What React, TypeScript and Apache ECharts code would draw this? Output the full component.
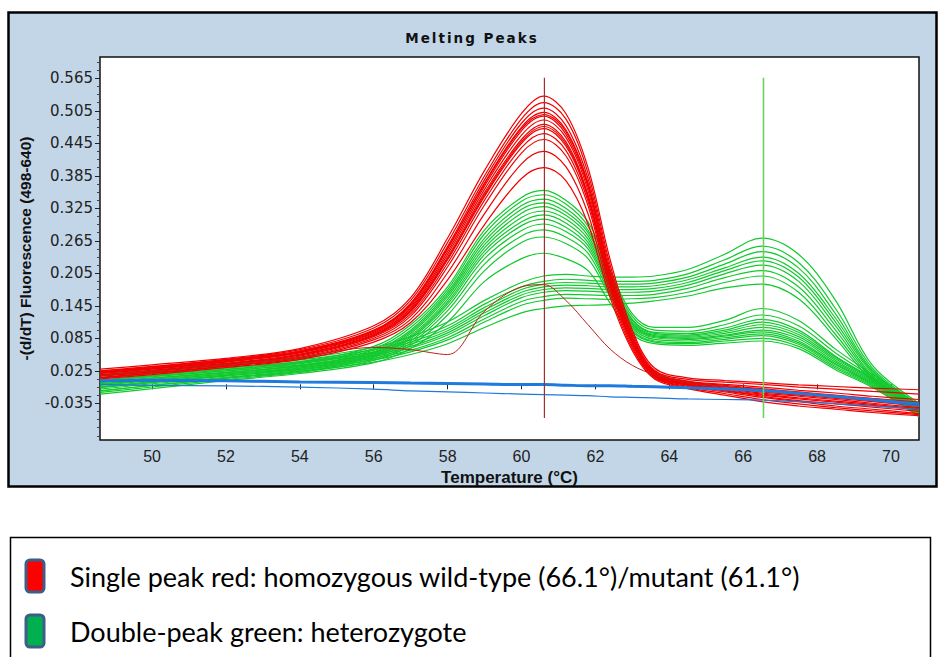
import React, { useEffect, useRef } from 'react';
import * as echarts from 'echarts';

// Temperature grid (°C) at which each melting curve is sampled
const temps = [48.6, 50, 52, 54, 56, 57, 58, 59, 60, 60.6, 61.2, 61.8, 62.4, 63, 63.6, 64.5, 65.5, 66.5, 67.5, 68.5, 69.5, 70.76];

// Single-peak (homozygous) samples
const redCurves = [
  [0.028, 0.036, 0.048, 0.066, 0.108, 0.16, 0.27, 0.395, 0.5, 0.532, 0.5, 0.4, 0.23, 0.1, 0.03, 0.012, 0.007, 0.003, -0.001, -0.004, -0.007, -0.01],
  [0.025, 0.033, 0.046, 0.064, 0.104, 0.155, 0.262, 0.385, 0.49, 0.52, 0.49, 0.39, 0.22, 0.095, 0.026, 0.009, 0.004, 0.0, -0.005, -0.009, -0.013, -0.018],
  [0.024, 0.032, 0.045, 0.062, 0.1, 0.15, 0.255, 0.378, 0.482, 0.51, 0.478, 0.38, 0.212, 0.09, 0.024, 0.006, 0, -0.005, -0.011, -0.016, -0.022, -0.028],
  [0.022, 0.03, 0.043, 0.06, 0.098, 0.146, 0.25, 0.372, 0.475, 0.502, 0.47, 0.372, 0.205, 0.088, 0.022, 0.005, -0.002, -0.008, -0.014, -0.02, -0.026, -0.033],
  [0.023, 0.031, 0.044, 0.061, 0.099, 0.148, 0.252, 0.37, 0.472, 0.498, 0.467, 0.368, 0.203, 0.087, 0.022, 0.004, -0.004, -0.01, -0.016, -0.022, -0.028, -0.035],
  [0.021, 0.029, 0.042, 0.059, 0.096, 0.143, 0.245, 0.366, 0.468, 0.495, 0.462, 0.365, 0.2, 0.085, 0.021, 0.003, -0.005, -0.012, -0.018, -0.024, -0.03, -0.038],
  [0.02, 0.028, 0.041, 0.058, 0.094, 0.14, 0.24, 0.36, 0.46, 0.488, 0.456, 0.358, 0.196, 0.082, 0.02, 0.002, -0.007, -0.014, -0.02, -0.026, -0.032, -0.04],
  [0.018, 0.026, 0.039, 0.056, 0.092, 0.137, 0.235, 0.354, 0.452, 0.48, 0.448, 0.35, 0.19, 0.079, 0.018, 0.001, -0.008, -0.016, -0.022, -0.028, -0.035, -0.043],
  [0.017, 0.025, 0.038, 0.055, 0.091, 0.136, 0.232, 0.35, 0.448, 0.476, 0.444, 0.347, 0.188, 0.078, 0.017, 0, -0.01, -0.018, -0.025, -0.031, -0.037, -0.045],
  [0.016, 0.024, 0.037, 0.054, 0.09, 0.134, 0.23, 0.347, 0.445, 0.472, 0.44, 0.344, 0.186, 0.076, 0.016, -0.001, -0.011, -0.02, -0.027, -0.033, -0.039, -0.047],
  [0.015, 0.023, 0.036, 0.052, 0.088, 0.13, 0.224, 0.34, 0.437, 0.463, 0.432, 0.338, 0.182, 0.074, 0.015, -0.002, -0.012, -0.022, -0.03, -0.036, -0.042, -0.05],
  [0.013, 0.021, 0.034, 0.05, 0.085, 0.126, 0.217, 0.331, 0.427, 0.452, 0.422, 0.33, 0.176, 0.07, 0.013, -0.004, -0.014, -0.024, -0.032, -0.04, -0.046, -0.054],
  [0.012, 0.02, 0.033, 0.048, 0.082, 0.12, 0.206, 0.315, 0.407, 0.43, 0.402, 0.315, 0.168, 0.066, 0.012, -0.006, -0.017, -0.028, -0.036, -0.043, -0.049, -0.056],
  [0.01, 0.018, 0.031, 0.046, 0.078, 0.114, 0.193, 0.295, 0.38, 0.4, 0.376, 0.296, 0.16, 0.062, 0.01, -0.008, -0.02, -0.032, -0.04, -0.046, -0.052, -0.058],
];

// One weak single-peak sample with a shoulder near 57.5 °C
const weakRedCurve = [0.016, 0.024, 0.036, 0.05, 0.068, 0.064, 0.055, 0.135, 0.18, 0.184, 0.155, 0.11, 0.065, 0.035, 0.018, 0.004, -0.004, -0.01, -0.017, -0.023, -0.03, -0.04];

// Double-peak (heterozygote) samples, strong low-temperature peak
const greenCurvesA = [
  [0.012, 0.02, 0.03, 0.042, 0.07, 0.11, 0.18, 0.285, 0.345, 0.358, 0.34, 0.3, 0.21, 0.13, 0.105, 0.105, 0.118, 0.14, 0.118, 0.065, 0.018, -0.038],
  [0.008, 0.016, 0.027, 0.04, 0.066, 0.105, 0.175, 0.278, 0.338, 0.35, 0.333, 0.292, 0.203, 0.125, 0.1, 0.098, 0.11, 0.128, 0.108, 0.058, 0.014, -0.04],
  [0.006, 0.014, 0.025, 0.038, 0.063, 0.1, 0.17, 0.27, 0.33, 0.342, 0.325, 0.285, 0.197, 0.12, 0.096, 0.094, 0.104, 0.12, 0.1, 0.052, 0.011, -0.042],
  [0.003, 0.011, 0.022, 0.035, 0.06, 0.097, 0.166, 0.264, 0.323, 0.335, 0.318, 0.28, 0.193, 0.118, 0.094, 0.091, 0.1, 0.115, 0.096, 0.05, 0.01, -0.044],
  [0.001, 0.009, 0.021, 0.034, 0.058, 0.094, 0.162, 0.258, 0.316, 0.328, 0.312, 0.274, 0.188, 0.115, 0.092, 0.089, 0.097, 0.11, 0.092, 0.047, 0.008, -0.046],
  [-0.002, 0.007, 0.019, 0.032, 0.056, 0.09, 0.157, 0.252, 0.308, 0.32, 0.305, 0.268, 0.184, 0.112, 0.09, 0.087, 0.094, 0.105, 0.088, 0.044, 0.006, -0.048],
  [-0.004, 0.005, 0.017, 0.03, 0.054, 0.087, 0.152, 0.246, 0.3, 0.313, 0.298, 0.262, 0.18, 0.11, 0.088, 0.085, 0.091, 0.1, 0.084, 0.041, 0.004, -0.05],
  [-0.006, 0.003, 0.015, 0.028, 0.052, 0.084, 0.148, 0.24, 0.293, 0.305, 0.29, 0.256, 0.176, 0.107, 0.086, 0.083, 0.089, 0.097, 0.08, 0.038, 0.002, -0.052],
  [-0.009, 0.001, 0.013, 0.026, 0.05, 0.08, 0.143, 0.232, 0.284, 0.296, 0.282, 0.25, 0.172, 0.104, 0.083, 0.08, 0.086, 0.093, 0.077, 0.036, 0, -0.054],
  [-0.012, -0.002, 0.011, 0.024, 0.047, 0.076, 0.136, 0.222, 0.274, 0.285, 0.272, 0.242, 0.167, 0.1, 0.08, 0.077, 0.083, 0.09, 0.074, 0.033, -0.002, -0.056],
  [-0.015, -0.005, 0.009, 0.022, 0.044, 0.072, 0.128, 0.21, 0.262, 0.272, 0.26, 0.232, 0.162, 0.097, 0.078, 0.075, 0.08, 0.085, 0.07, 0.03, -0.004, -0.058],
  [-0.018, -0.008, 0.007, 0.02, 0.04, 0.066, 0.115, 0.19, 0.232, 0.242, 0.232, 0.21, 0.15, 0.092, 0.075, 0.072, 0.076, 0.08, 0.066, 0.027, -0.006, -0.06],
];

// Double-peak (heterozygote) samples, strong high-temperature peak
const greenCurvesB = [
  [0.025, 0.03, 0.038, 0.048, 0.068, 0.088, 0.115, 0.155, 0.188, 0.2, 0.203, 0.2, 0.198, 0.198, 0.2, 0.212, 0.24, 0.27, 0.24, 0.155, 0.035, -0.035],
  [0.02, 0.026, 0.035, 0.045, 0.064, 0.082, 0.108, 0.148, 0.18, 0.19, 0.194, 0.192, 0.19, 0.19, 0.192, 0.204, 0.23, 0.255, 0.225, 0.14, 0.03, -0.038],
  [0.016, 0.022, 0.031, 0.042, 0.06, 0.078, 0.103, 0.142, 0.175, 0.185, 0.188, 0.187, 0.185, 0.185, 0.187, 0.198, 0.222, 0.245, 0.215, 0.13, 0.026, -0.04],
  [0.012, 0.018, 0.028, 0.039, 0.057, 0.074, 0.099, 0.137, 0.17, 0.18, 0.183, 0.182, 0.18, 0.18, 0.182, 0.193, 0.215, 0.235, 0.205, 0.122, 0.023, -0.042],
  [0.008, 0.015, 0.025, 0.036, 0.054, 0.07, 0.095, 0.132, 0.165, 0.175, 0.178, 0.177, 0.175, 0.175, 0.177, 0.188, 0.21, 0.228, 0.198, 0.115, 0.02, -0.044],
  [0.004, 0.012, 0.022, 0.033, 0.051, 0.067, 0.091, 0.127, 0.16, 0.17, 0.173, 0.172, 0.17, 0.17, 0.172, 0.183, 0.204, 0.22, 0.19, 0.108, 0.016, -0.046],
  [0.0, 0.008, 0.019, 0.03, 0.048, 0.063, 0.086, 0.121, 0.153, 0.162, 0.166, 0.165, 0.164, 0.164, 0.166, 0.177, 0.197, 0.21, 0.18, 0.1, 0.013, -0.048],
  [-0.005, 0.004, 0.016, 0.027, 0.045, 0.06, 0.082, 0.115, 0.146, 0.155, 0.159, 0.158, 0.157, 0.158, 0.16, 0.17, 0.188, 0.2, 0.17, 0.092, 0.01, -0.05],
  [-0.012, -0.002, 0.012, 0.024, 0.041, 0.055, 0.075, 0.105, 0.132, 0.14, 0.145, 0.146, 0.147, 0.15, 0.154, 0.163, 0.178, 0.185, 0.158, 0.085, 0.006, -0.052],
];

// No-template controls
const blueCurves = [
  [0.007, 0.008, 0.007, 0.005, 0.004, 0.003, 0.002, 0.001, 0.0, 0.0, -0.001, -0.002, -0.002, -0.003, -0.004, -0.006, -0.008, -0.011, -0.016, -0.022, -0.028, -0.036],
  [0.005, 0.006, 0.005, 0.003, 0.002, 0.001, 0.0, -0.001, -0.002, -0.002, -0.003, -0.004, -0.004, -0.005, -0.006, -0.008, -0.01, -0.013, -0.018, -0.024, -0.03, -0.04],
  [0.0, -0.002, -0.003, -0.005, -0.009, -0.012, -0.014, -0.016, -0.018, -0.019, -0.02, -0.021, -0.023, -0.024, -0.025, -0.027, -0.028, -0.029, -0.032, -0.036, -0.04, -0.046],
];
const blueWidths = [2.4, 1.4, 1.2];

// Melting temperature cursors and their vertical extent
const meltTemps = [60.62, 66.55];
const cursorSpan = [-0.062, 0.566];

// Axes
const xRange = [48.59, 70.76];
const yRange = [-0.1028, 0.6043];
const xTicks = [50, 52, 54, 56, 58, 60, 62, 64, 66, 68, 70];
const yTicks = [-0.035, 0.025, 0.085, 0.145, 0.205, 0.265, 0.325, 0.385, 0.445, 0.505, 0.565];

const legendItems = [
  { label: 'Single peak red: homozygous wild-type (66.1°)/mutant (61.1°)', color: '#ff0000' },
  { label: 'Double-peak green: heterozygote', color: '#00b050' },
];

const RED = '#f00000';
const GREEN = '#12c92e';
const BLUE = '#1f7ade';

function curveSeries(values: number[], color: string, width: number) {
  return {
    type: 'line',
    data: values.map((v, i) => [temps[i], v]),
    showSymbol: false,
    smooth: 0.35,
    silent: true,
    lineStyle: { color, width },
    emphasis: { disabled: true },
  };
}

export default function App() {
  const ref = useRef<HTMLDivElement>(null);

  useEffect(() => {
    if (!ref.current) return;
    const chart = echarts.init(ref.current, null, { renderer: 'svg' });

    const yMinor: number[] = [];
    yTicks.forEach((t) => {
      [0.015, 0.03, 0.045].forEach((d) => yMinor.push(+(t + d).toFixed(3)));
    });
    yMinor.push(-0.05, -0.065, -0.08, -0.095);

    const series: any[] = [];
    greenCurvesA.forEach((c) => series.push(curveSeries(c, GREEN, 1.2)));
    greenCurvesB.forEach((c) => series.push(curveSeries(c, GREEN, 1.2)));
    redCurves.forEach((c) => series.push(curveSeries(c, RED, 1.2)));
    series.push(curveSeries(weakRedCurve, '#c0201a', 1));
    blueCurves.forEach((c, i) => series.push(curveSeries(c, BLUE, blueWidths[i])));
    meltTemps.forEach((t, i) => {
      series.push({
        type: 'line',
        data: [[t, cursorSpan[0]], [t, cursorSpan[1]]],
        showSymbol: false,
        silent: true,
        lineStyle: { color: i === 0 ? '#a0302c' : '#6ed05e', width: i === 0 ? 1.2 : 1.6 },
        z: 5,
      });
    });

    const legendGraphics: any[] = [];
    legendItems.forEach((item, i) => {
      const cy = 576 + i * 55;
      legendGraphics.push({
        type: 'rect',
        shape: { x: 26, y: cy - 16, width: 18, height: 32, r: 4 },
        style: { fill: item.color, stroke: '#3e5d87', lineWidth: 3 },
      });
      legendGraphics.push({
        type: 'text',
        x: 70,
        y: cy,
        style: {
          text: item.label,
          fill: '#000',
          font: '27px Lato, "Liberation Sans", sans-serif',
          textVerticalAlign: 'middle',
        },
      });
    });

    chart.setOption({
      animation: false,
      backgroundColor: '#ffffff',
      title: {
        text: 'Melting Peaks',
        left: 472,
        top: 31,
        padding: 0,
        textAlign: 'center',
        textStyle: { fontFamily: 'DejaVu Sans', fontWeight: 'bold', fontSize: 13.5, color: '#111' },
      },
      graphic: [
        {
          type: 'rect',
          z: -10,
          shape: { x: 8.5, y: 12.5, width: 928, height: 474 },
          style: { fill: '#c3d6e8', stroke: '#000', lineWidth: 2.5 },
        },
        {
          type: 'rect',
          z: -10,
          shape: { x: 10.5, y: 537.5, width: 920, height: 140 },
          style: { fill: '#fff', stroke: '#000', lineWidth: 1.5 },
        },
        ...legendGraphics,
      ],
      grid: {
        left: 100,
        top: 57,
        width: 819,
        height: 383,
        show: true,
        backgroundColor: '#ffffff',
        borderColor: '#111',
        borderWidth: 1.5,
      },
      xAxis: {
        type: 'value',
        min: xRange[0],
        max: xRange[1],
        name: 'Temperature (°C)',
        nameLocation: 'middle',
        nameGap: 21,
        nameTextStyle: {
          fontFamily: '"Liberation Sans", Arial, sans-serif',
          fontWeight: 'bold',
          fontSize: 17,
          color: '#111',
        },
        axisLine: { show: false },
        axisTick: { customValues: xTicks, length: 5, lineStyle: { color: '#222' } },
        axisLabel: {
          customValues: xTicks,
          margin: 8,
          fontFamily: '"Liberation Sans", Arial, sans-serif',
          fontSize: 16,
          color: '#222',
        },
        splitLine: { show: false },
      },
      yAxis: [
        {
          type: 'value',
          min: yRange[0],
          max: yRange[1],
          name: '-(d/dT) Fluorescence (498-640)',
          nameLocation: 'middle',
          nameGap: 52,
          nameTextStyle: {
            fontFamily: '"Liberation Sans", Arial, sans-serif',
            fontWeight: 'bold',
            fontSize: 15.5,
            color: '#111',
          },
          axisLine: { show: false },
          axisTick: { customValues: yTicks, length: 5, lineStyle: { color: '#222' } },
          axisLabel: {
            customValues: yTicks,
            margin: 7,
            formatter: (v: number) => v.toFixed(3),
            fontFamily: 'DejaVu Sans',
            fontSize: 15,
            color: '#222',
          },
          splitLine: { show: false },
        },
        {
          type: 'value',
          min: yRange[0],
          max: yRange[1],
          position: 'left',
          axisLine: { show: false },
          axisTick: { customValues: yMinor, length: 3, lineStyle: { color: '#444' } },
          axisLabel: { show: false },
          splitLine: { show: false },
        },
      ],
      series,
    });

    const titleText = Array.from(ref.current.querySelectorAll('text')).find(
      (t) => t.textContent === 'Melting Peaks'
    );
    if (titleText) titleText.setAttribute('letter-spacing', '2');

    return () => chart.dispose();
  }, []);

  return (
    <div
      ref={ref}
      style={{ position: 'fixed', left: 0, top: 0, width: 939, height: 657, background: '#fff' }}
    />
  );
}
